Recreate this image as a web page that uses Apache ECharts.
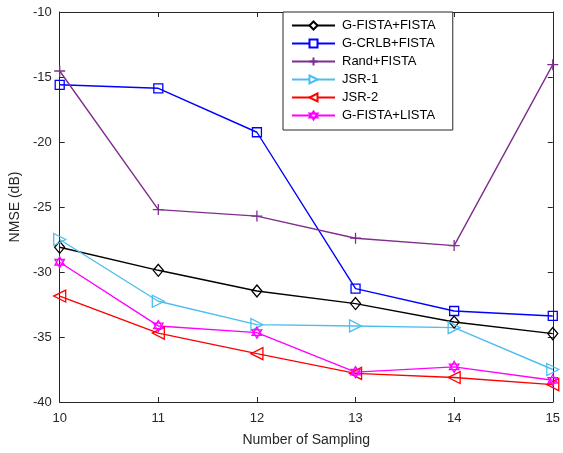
<!DOCTYPE html>
<html>
<head>
<meta charset="utf-8">
<script src="https://cdn.jsdelivr.net/npm/echarts@6/dist/echarts.min.js"></script>
<style>
html, body { margin: 0; padding: 0; background: #fff; }
#chart { width: 563px; height: 453px; }
</style>
</head>
<body>
<div id="chart"></div>
<script>
var samples = [10, 11, 12, 13, 14, 15];
var gFistaFista = [-28.1, -29.87, -31.46, -32.43, -33.85, -34.74];
var gCrlbFista = [-15.6, -15.87, -19.25, -31.28, -33.0, -33.38];
var randFista = [-14.54, -25.2, -25.7, -27.4, -27.97, -14.05];
var jsr1 = [-27.5, -32.25, -34.05, -34.15, -34.28, -37.5];
var jsr2 = [-31.85, -34.7, -36.28, -37.8, -38.12, -38.66];
var gFistaLista = [-29.25, -34.15, -34.66, -37.7, -37.3, -38.33];
var yTicks = [-40, -35, -30, -25, -20, -15, -10];

var axisColor = '#262626';
var font = 'Arial, "Liberation Sans", sans-serif';

function pairs(vals) {
	return vals.map(function(v, i) { return [samples[i], v]; });
}

// MATLAB-like markers, drawn as outlines
var mk = {
	diamond: 'path://M5,0L10,6L5,12L0,6Z',
	square: 'path://M0,0L10,0L10,10L0,10Z',
	plus: 'path://M5,0L5,10M0,5L10,5',
	triRight: 'path://M0,0L10,5L0,10Z',
	triLeft: 'path://M10,0L0,5L10,10Z',
	hexagram: 'path://M5,0L9.33,7.5L0.67,7.5Z M5,10L0.67,2.5L9.33,2.5Z'
};

function makeSeries(name, data, color, symbol, size) {
	return {
		name: name,
		type: 'line',
		data: pairs(data),
		symbol: symbol,
		symbolSize: size,
		symbolKeepAspect: true,
		showAllSymbol: true,
		animation: false,
		lineStyle: { color: color, width: 1.4 },
		itemStyle: { color: 'rgba(255,255,255,0)', borderColor: color, borderWidth: 1.3 },
		emphasis: { disabled: true }
	};
}

var myChart = echarts.init(document.getElementById('chart'), null, { renderer: 'canvas' });
var option = {
	backgroundColor: '#fff',
	animation: false,
	grid: {
		left: 57,
		right: 6,
		top: 12,
		bottom: 51,
		containLabel: false
	},
	legend: {
		orient: 'vertical',
		left: 283,
		top: 12,
		padding: [7, 17, 8, 8],
		itemGap: 5,
		itemWidth: 43,
		itemHeight: 10,
		backgroundColor: '#fff',
		borderColor: axisColor,
		borderWidth: 1,
		borderRadius: 0,
		selectedMode: false,
		itemStyle: { color: '#fff' },
		textStyle: { fontFamily: font, fontSize: 13, color: '#000', padding: [0, 0, 0, 2] },
		data: ['G-FISTA+FISTA', 'G-CRLB+FISTA', 'Rand+FISTA', 'JSR-1', 'JSR-2', 'G-FISTA+LISTA']
	},
	xAxis: [{
		type: 'value',
		min: 10,
		max: 15,
		interval: 1,
		name: 'Number of Sampling',
		nameLocation: 'middle',
		nameGap: 31,
		nameTextStyle: { fontFamily: font, fontSize: 14, color: axisColor },
		axisLine: { onZero: false, lineStyle: { color: axisColor, width: 1 } },
		axisTick: { inside: true, length: 5, lineStyle: { color: axisColor } },
		axisLabel: { fontFamily: font, fontSize: 13, color: axisColor, margin: 10 },
		splitLine: { show: false }
	}, {
		type: 'value',
		position: 'top',
		min: 10,
		max: 15,
		interval: 1,
		axisLine: { onZero: false, lineStyle: { color: axisColor, width: 1 } },
		axisTick: { inside: true, length: 5, lineStyle: { color: axisColor } },
		axisLabel: { show: false },
		splitLine: { show: false }
	}],
	yAxis: [{
		type: 'value',
		min: -40,
		max: -10,
		interval: 5,
		name: 'NMSE (dB)',
		nameLocation: 'middle',
		nameGap: 37,
		nameRotate: 90,
		nameTextStyle: { fontFamily: font, fontSize: 14, color: axisColor },
		axisLine: { onZero: false, lineStyle: { color: axisColor, width: 1 } },
		axisTick: { inside: true, length: 5, lineStyle: { color: axisColor } },
		axisLabel: {
			fontFamily: font, fontSize: 13, color: axisColor, margin: 8,
			formatter: function(v) { return yTicks.indexOf(v) >= 0 ? String(v) : ''; }
		},
		splitLine: { show: false }
	}, {
		type: 'value',
		position: 'right',
		min: -40,
		max: -10,
		interval: 5,
		axisLine: { onZero: false, lineStyle: { color: axisColor, width: 1 } },
		axisTick: { inside: true, length: 5, lineStyle: { color: axisColor } },
		axisLabel: { show: false },
		splitLine: { show: false }
	}],
	series: [
		makeSeries('G-FISTA+FISTA', gFistaFista, '#000000', mk.diamond, 12),
		makeSeries('G-CRLB+FISTA', gCrlbFista, '#0000ff', mk.square, 9),
		makeSeries('Rand+FISTA', randFista, '#7e2f8e', mk.plus, 11),
		makeSeries('JSR-1', jsr1, '#4dbeee', mk.triRight, 12),
		makeSeries('JSR-2', jsr2, '#ff0000', mk.triLeft, 12),
		makeSeries('G-FISTA+LISTA', gFistaLista, '#ff00ff', mk.hexagram, 11)
	]
};
myChart.setOption(option);
</script>
</body>
</html>
